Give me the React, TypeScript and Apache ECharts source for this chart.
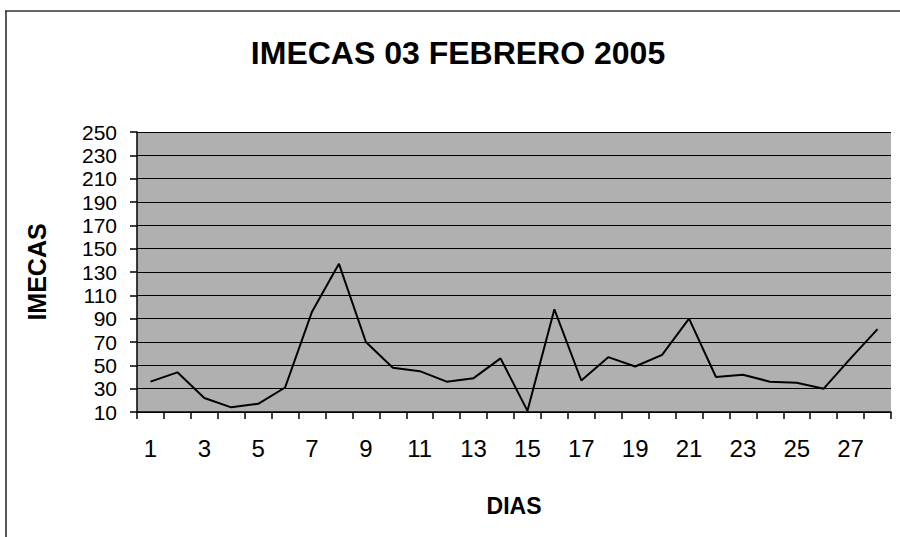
import React, { useEffect, useRef } from "react";
import * as echarts from "echarts";

const TITLE = "IMECAS 03 FEBRERO 2005";
const X_NAME = "DIAS";
const Y_NAME = "IMECAS";
const DAYS = [
  "1", "2", "3", "4", "5", "6", "7", "8", "9", "10", "11", "12", "13", "14",
  "15", "16", "17", "18", "19", "20", "21", "22", "23", "24", "25", "26", "27", "28",
];
const IMECAS = [
  36, 44, 22, 14, 17, 31, 96, 137, 70, 48, 45, 36, 39, 56,
  11, 98, 37, 57, 49, 59, 90, 40, 42, 36, 35, 30, 56, 81,
];
const Y_MIN = 10;
const Y_MAX = 250;
const Y_STEP = 20;

const FONT = "'Liberation Sans', Arial, sans-serif";

export default function App() {
  const ref = useRef<HTMLDivElement>(null);
  useEffect(() => {
    if (!ref.current) return;
    const chart = echarts.init(ref.current, null, { renderer: "svg" });
    chart.setOption({
      animation: false,
      backgroundColor: "#ffffff",
      textStyle: { fontFamily: FONT, color: "#000" },
      title: {
        text: TITLE,
        left: 453,
        textAlign: "center",
        top: 32,
        textStyle: { fontFamily: FONT, fontSize: 32, fontWeight: "bold", color: "#000" },
      },
      graphic: [
        { type: "line", shape: { x1: 5, y1: 11, x2: 900, y2: 11 }, style: { stroke: "#333", lineWidth: 1.5 } },
        { type: "line", shape: { x1: 6, y1: 11, x2: 6, y2: 537 }, style: { stroke: "#222", lineWidth: 1.5 } },
      ],
      grid: {
        left: 137,
        right: 9,
        top: 132,
        bottom: 125,
        show: true,
        backgroundColor: "#b0b0b0",
        borderWidth: 0,
      },
      xAxis: {
        type: "category",
        data: DAYS,
        boundaryGap: true,
        name: X_NAME,
        nameLocation: "middle",
        nameGap: 82,
        nameTextStyle: { fontFamily: FONT, fontSize: 23, fontWeight: "bold", color: "#000" },
        axisLine: { show: true, lineStyle: { color: "#000", width: 1.5 } },
        axisTick: { show: true, interval: 0, length: 7, lineStyle: { color: "#000", width: 1.5 } },
        axisLabel: { interval: 1, margin: 24, fontFamily: FONT, fontSize: 24, color: "#000" },
        splitLine: { show: false },
      },
      yAxis: {
        type: "value",
        min: Y_MIN,
        max: Y_MAX,
        interval: Y_STEP,
        name: Y_NAME,
        nameLocation: "middle",
        nameGap: 88,
        nameRotate: 90,
        nameTextStyle: { fontFamily: FONT, fontSize: 25, fontWeight: "bold", color: "#000" },
        axisLine: { show: true, lineStyle: { color: "#000", width: 1.5 } },
        axisTick: { show: true, length: 7, lineStyle: { color: "#000", width: 1.5 } },
        axisLabel: {
          margin: 20,
          showMinLabel: true,
          showMaxLabel: true,
          hideOverlap: false,
          fontFamily: FONT,
          fontSize: 21,
          lineHeight: 21,
          color: "#000",
        },
        splitLine: { show: true, lineStyle: { color: "#000", width: 1 } },
      },
      series: [
        {
          type: "line",
          data: IMECAS,
          symbol: "none",
          lineStyle: { color: "#000", width: 2 },
        },
      ],
    });
    return () => chart.dispose();
  }, []);
  return (
    <div
      ref={ref}
      style={{ position: "absolute", left: 0, top: 0, width: 900, height: 537 }}
    />
  );
}
